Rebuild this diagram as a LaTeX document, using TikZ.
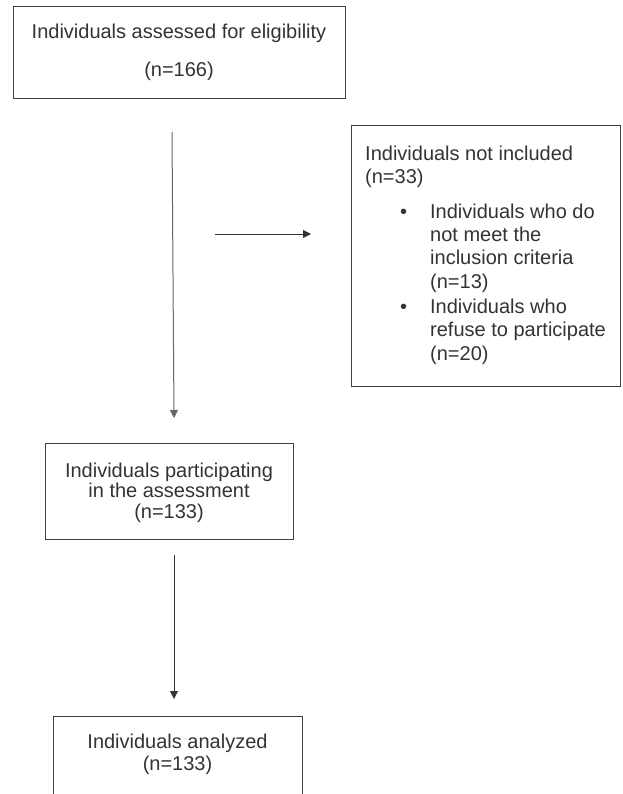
\documentclass[tikz,border=0pt]{standalone}
\usepackage{fontspec}
\setmainfont{Liberation Sans}
\usetikzlibrary{arrows.meta}
\definecolor{ink}{HTML}{333333}
\definecolor{edge}{HTML}{404040}
\begin{document}
\begin{tikzpicture}[x=1pt,y=-1pt,
  box/.style={draw=edge,line width=1pt,rectangle,inner sep=0pt,anchor=north west},
  txt/.style={text=ink,font=\fontsize{20}{23.5}\selectfont,inner sep=0pt,align=center},
  arr/.style={draw=ink,line width=1pt,-{Triangle[length=8pt,width=8pt]}}]
\useasboundingbox (0,0) rectangle (622,794);
\clip (0,0) rectangle (622,794);
% boxes
\node[box,minimum width=332pt,minimum height=92pt] (b1) at (13,6) {};
\node[box,minimum width=269pt,minimum height=261pt] (b2) at (351,125) {};
\node[box,minimum width=248pt,minimum height=96pt] (b3) at (45,443) {};
\node[box,minimum width=249pt,minimum height=120pt] (b4) at (53,716) {};
% texts
\node[txt,anchor=base] (t1a) at (179,39) {Individuals assessed for eligibility};
\node[txt,anchor=base] (t1b) at (179,77) {(n=166)};
\node[txt,anchor=base west,align=left,font=\fontsize{20}{23.4}\selectfont] (t2) at (365,360) {%
Individuals not included\\
(n=33)\\[11pt]
\hspace*{35pt}\makebox[30pt][l]{\textbullet}Individuals who do\\
\hspace*{65pt}not meet the\\
\hspace*{65pt}inclusion criteria\\
\hspace*{65pt}(n=13)\\[1.5pt]
\hspace*{35pt}\makebox[30pt][l]{\textbullet}Individuals who\\
\hspace*{65pt}refuse to participate\\
\hspace*{65pt}(n=20)};
\node[txt,anchor=base,font=\fontsize{20}{20.5}\selectfont] (t3) at (169,518) {Individuals participating\\in the assessment\\(n=133)};
\node[txt,anchor=base,font=\fontsize{20}{22}\selectfont] (t4) at (177.5,770) {Individuals analyzed\\(n=133)};
% connectors
\coordinate (a1s) at (172,132);
\coordinate (a1e) at (174,418);
\coordinate (a2s) at (215,234);
\coordinate (a2e) at (311,234);
\coordinate (a3s) at (174,555);
\coordinate (a3e) at (174,699);
\draw[arr,draw=gray!80!black] (a1s) -- (a1e);
\draw[arr] (a2s) -- (a2e);
\draw[arr] (a3s) -- (a3e);
\end{tikzpicture}
\end{document}
